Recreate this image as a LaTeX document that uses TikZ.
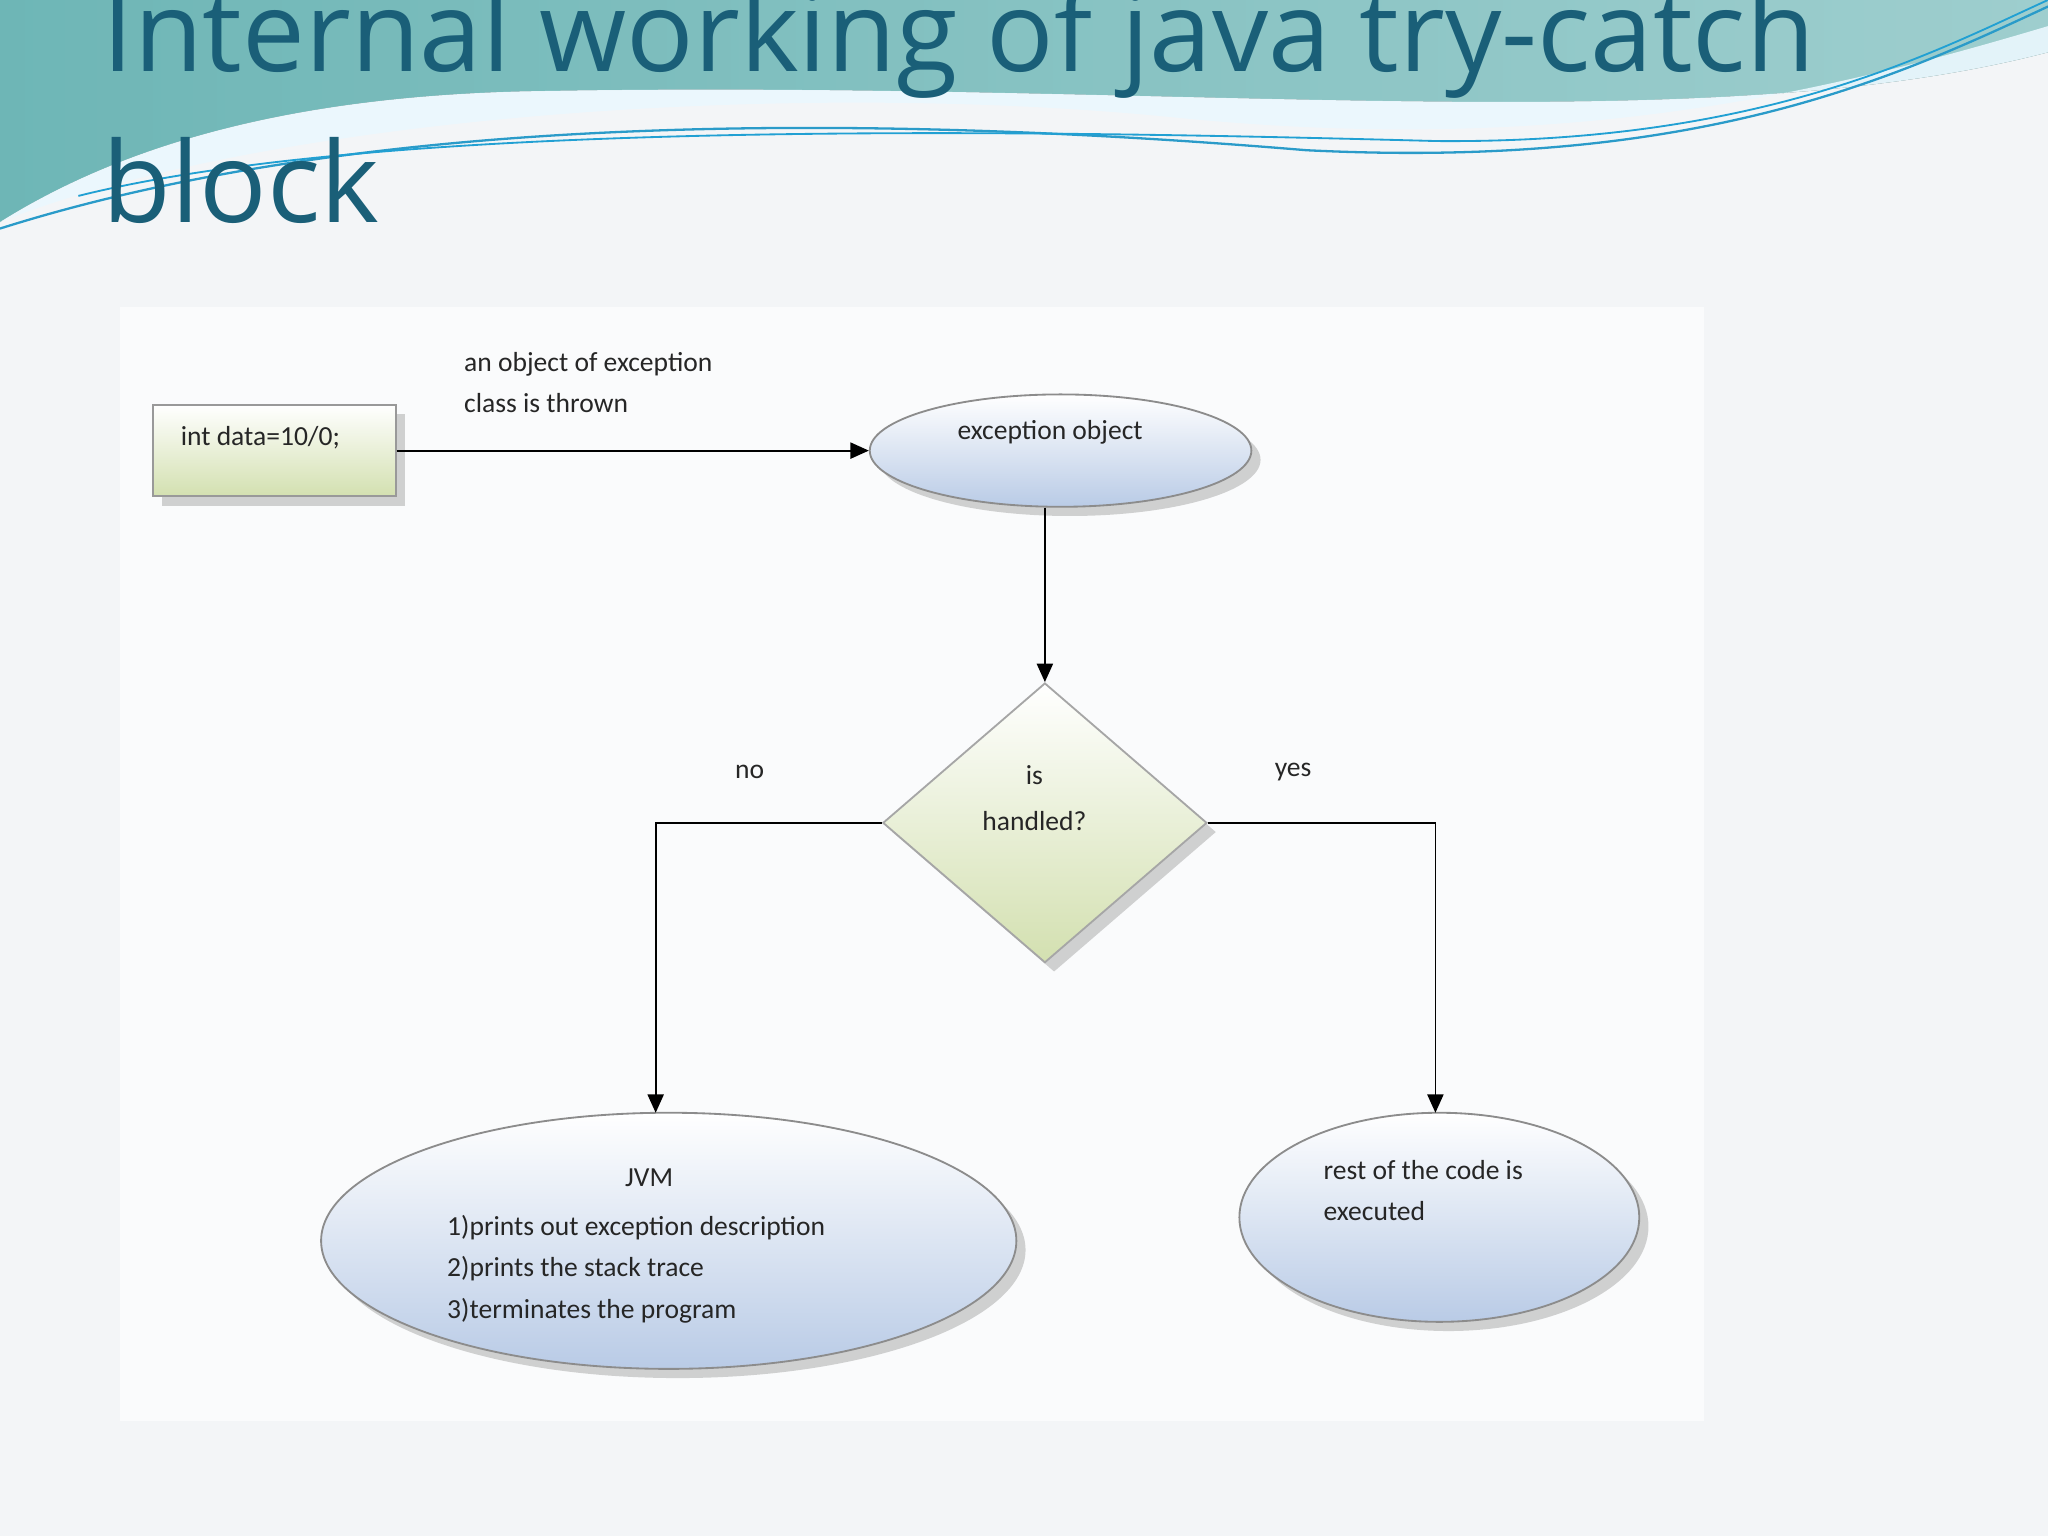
\documentclass[tikz,border=0pt]{standalone}
\usepackage{fontspec}
\setmainfont{Carlito}
\newfontfamily\titlefont{Open Sans}
\usetikzlibrary{shapes.geometric,shadows,arrows.meta}
\definecolor{bg}{HTML}{F3F5F7}
\definecolor{ttl}{HTML}{1A5F78}
\definecolor{ellb}{HTML}{B9CBE6}
\definecolor{grn}{HTML}{D3E0B0}
\begin{document}
\begin{tikzpicture}[x=0.01cm,y=-0.01cm,
  lbl/.style={font=\fontsize{6}{8}\selectfont,text=black!85,align=left},
  shd/.style={drop shadow={opacity=0.35,shadow xshift=2pt,shadow yshift=-2pt}},
  ell/.style={ellipse,draw=black!45,top color=white,bottom color=ellb,shd,inner sep=0pt},
  arr/.style={-{Triangle[length=4pt,width=3.5pt]},black,line width=0.4pt}]
\fill[bg] (0,0) rectangle (1568,1176);
\useasboundingbox (0,0) rectangle (1568,1176);
\fill[white!60!bg] (92,235) rectangle (1305,1088);
% waves
\fill[left color=cyan!50!teal!50,right color=cyan!25,opacity=0.75] (0,0) -- (1568,0) -- (1568,40) .. controls (1300,110) and (900,60) .. (400,70) .. controls (200,75) and (80,120) .. (0,170) -- cycle;
\fill[cyan!8,opacity=0.9] (0,170) .. controls (200,90) and (600,60) .. (900,90) .. controls (1200,120) and (1400,70) .. (1568,20) -- (1568,40) .. controls (1300,110) and (900,60) .. (400,70) .. controls (200,75) and (80,120) .. (0,170);
\draw[cyan!60!teal,line width=0.5pt] (0,175) .. controls (300,80) and (700,90) .. (1000,115) .. controls (1300,130) and (1450,60) .. (1568,5);
\draw[cyan!70!teal,line width=0.4pt] (60,150) .. controls (300,90) and (800,100) .. (1100,108) .. controls (1350,110) and (1480,40) .. (1568,0);
\node[anchor=base west,text=ttl,font=\titlefont\fontsize{24.4}{30}\selectfont,inner sep=0] (t1) at (78,55) {Internal working of java try-catch};
\node[anchor=base west,text=ttl,font=\titlefont\fontsize{24.4}{30}\selectfont,inner sep=0] (t2) at (78,170) {block};
% nodes
\node[draw=black!40,top color=white,bottom color=grn,minimum width=1.86cm,minimum height=0.7cm,inner sep=0,shd] (box) at (210,345) {};
\node[lbl,anchor=north west] (bt) at (126,314) {int data=10/0;};
\node[ell,minimum width=2.92cm,minimum height=0.86cm] (eo) at (812,345) {};
\node[lbl] (eot) at (804,331) {exception object};
\draw[arr] (box.east) -- (eo.west);
\node[lbl,anchor=north west] (thr) at (343,257) {an object of exception\\[1pt]class is thrown};
\node[diamond,aspect=1.16,draw=black!35,top color=white,bottom color=grn,shd,minimum width=2.48cm,minimum height=2.14cm,inner sep=0] (d) at (800,630) {};
\node[lbl,align=center] (dt) at (792,611) {is\\[2pt]handled?};
\draw[arr] (eo.south -| d.north) -- (d.north);
\node[ell,minimum width=5.32cm,minimum height=1.96cm] (jvm) at (512,950) {};
\node[ell,minimum width=3.06cm,minimum height=1.6cm] (rest) at (1102,932) {};
\coordinate (jT) at (502,852);
\coordinate (rT) at (1099,852);
\draw[arr] (d.west) -| (jT);
\draw[arr] (d.east) -| (rT);
\node[lbl] (no) at (574,591) {no};
\node[lbl] (yes) at (990,591) {yes};
\node[lbl,align=center] (jv) at (497,902) {JVM};
\node[lbl,anchor=north west] (jl) at (330,918) {1)prints out exception description\\[1pt]2)prints the stack trace\\[1pt]3)terminates the program};
\node[lbl,anchor=north west] (rt) at (1001,876) {rest of the code is\\[1pt]executed};
\end{tikzpicture}
\end{document}
